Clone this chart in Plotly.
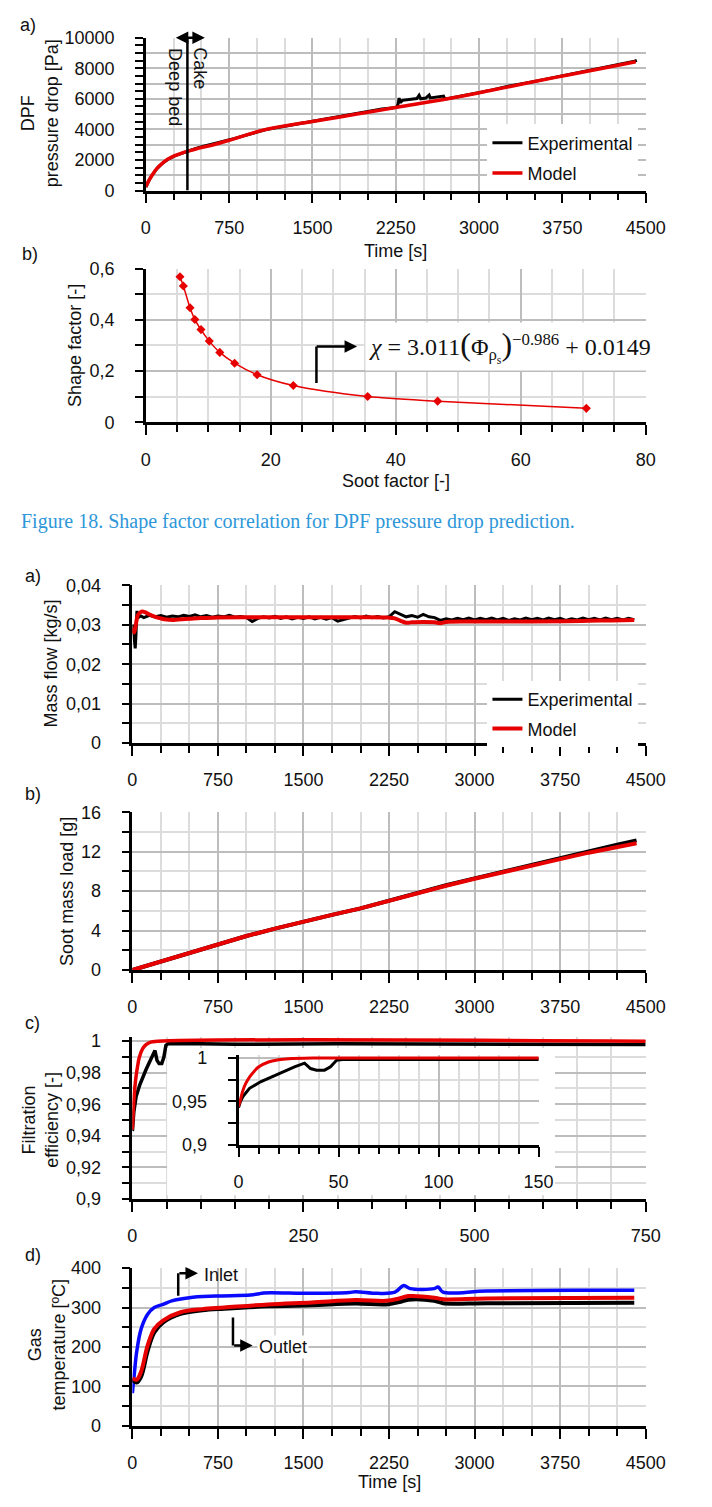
import plotly.graph_objects as go

W, H = 712, 1507
FONT = "Liberation Sans"
TXT = "#111111"
RED = "#e60000"
BLACK = "#000000"
BLUE = "#0a0aff"
GMAJ = "#bdbdbd"
GMIN = "#dcdcdc"

# ---------------- data ----------------
# Fig 18 a) DPF pressure drop
dp_time_model = [0, 10, 30, 60, 100, 150, 200, 260, 330, 374, 450, 610, 800, 1083, 1500, 1900, 2300, 2716, 3100, 3500, 3800, 4114, 4410]
dp_model = [250, 420, 700, 1050, 1450, 1800, 2060, 2280, 2470, 2560, 2720, 3000, 3400, 4000, 4520, 5000, 5500, 6000, 6540, 7130, 7560, 8000, 8420]
dp_time_exp = [0, 10, 30, 60, 100, 150, 200, 260, 330, 374, 450, 520, 610, 800, 1083, 1500, 1900, 2125, 2260, 2272, 2280, 2290,
               2310, 2350, 2400, 2440, 2460, 2475, 2520, 2550, 2560, 2600, 2650, 2680, 2690, 2716, 3100, 3300, 3500, 3800, 4114, 4400, 4420]
dp_exp = [230, 400, 690, 1040, 1440, 1790, 2050, 2270, 2460, 2570, 2760, 2900, 3050, 3410, 3990, 4510, 5000, 5330, 5440, 5700, 6050, 5750,
          5900, 5950, 5980, 6020, 6230, 6000, 6050, 6250, 6060, 6100, 6150, 6180, 6000, 6010, 6550, 6880, 7140, 7570, 8010, 8460, 8520]
transition_time = 374

# Fig 18 b) shape factor vs soot factor
soot_factor = [5.46, 6.0, 7.07, 7.84, 8.82, 10.15, 11.83, 14.2, 17.8, 23.6, 35.5, 46.7, 70.5]
shape_factor = [0.568, 0.532, 0.447, 0.401, 0.362, 0.317, 0.273, 0.231, 0.186, 0.144, 0.101, 0.083, 0.055]

# Fig 19 a) mass flow
mf_time_exp = [0, 10, 20, 25, 30, 35, 40, 50, 75,
               100, 150, 200, 250, 300, 350, 400, 450, 500, 550, 600, 650, 700, 750, 800, 850, 900, 950, 1000,
               1050, 1100, 1150, 1200, 1250, 1300, 1350, 1400, 1450, 1500, 1550, 1600, 1650, 1700, 1750, 1800,
               1850, 1900, 1950, 2000, 2050, 2100, 2150, 2200, 2250, 2300, 2350, 2400, 2450, 2500, 2550, 2600,
               2650, 2700, 2750, 2800, 2850, 2900, 2950, 3000, 3050, 3100, 3150, 3200, 3250, 3300, 3350, 3400,
               3450, 3500, 3550, 3600, 3650, 3700, 3750, 3800, 3850, 3900, 3950, 4000, 4050, 4100, 4150, 4200,
               4250, 4300, 4350, 4400]
mf_exp = [0.0300, 0.0285, 0.0255, 0.0240, 0.0265, 0.0310, 0.0335, 0.0318, 0.0322,
          0.0318, 0.0324, 0.0320, 0.0323, 0.0319, 0.0322, 0.0320, 0.0324, 0.0321, 0.0325, 0.0320, 0.0323, 0.0319, 0.0322, 0.0320, 0.0324, 0.0319, 0.0321, 0.0318,
          0.0308, 0.0316, 0.0320, 0.0317, 0.0321, 0.0316, 0.0320, 0.0315, 0.0319, 0.0316, 0.0320, 0.0315, 0.0319, 0.0314, 0.0318, 0.0309,
          0.0313, 0.0318, 0.0321, 0.0317, 0.0322, 0.0318, 0.0321, 0.0317, 0.0320, 0.0333, 0.0326, 0.0320, 0.0323, 0.0319, 0.0326, 0.0320,
          0.0318, 0.0311, 0.0315, 0.0312, 0.0316, 0.0313, 0.0317, 0.0312, 0.0316, 0.0313, 0.0317, 0.0312, 0.0316, 0.0311, 0.0315, 0.0312,
          0.0317, 0.0313, 0.0316, 0.0312, 0.0317, 0.0313, 0.0316, 0.0311, 0.0315, 0.0312, 0.0317, 0.0313, 0.0316, 0.0312, 0.0317, 0.0313,
          0.0316, 0.0312, 0.0316, 0.0313]
mf_time_model = [0, 15, 30, 50, 80, 110, 150, 200, 250, 300, 350, 400, 500, 600, 750, 1000, 1500, 2000, 2250, 2300, 2350, 2400,
                 2450, 2550, 2650, 2700, 2750, 3000, 3500, 3800, 4000, 4200, 4400]
mf_model = [0.0292, 0.0280, 0.0300, 0.0325, 0.0333, 0.0332, 0.0326, 0.0320, 0.0316, 0.0313, 0.0312, 0.0313, 0.0315, 0.0317, 0.0318,
            0.0319, 0.0319, 0.0319, 0.0318, 0.0316, 0.0310, 0.0305, 0.0306, 0.0307, 0.0306, 0.0304, 0.0307, 0.0308, 0.0308, 0.0309,
            0.0310, 0.0311, 0.0312]

# Fig 19 b) soot mass load
soot_time = [0, 250, 500, 750, 1000, 1250, 1500, 1750, 2000, 2250, 2500, 2750, 3000, 3250, 3500, 3750, 4000, 4250, 4420]
soot_exp = [0, 0.85, 1.75, 2.65, 3.45, 4.2, 4.95, 5.6, 6.25, 7.05, 7.85, 8.6, 9.3, 10.0, 10.7, 11.4, 12.05, 12.7, 13.15]
soot_model = [0, 0.85, 1.75, 2.65, 3.45, 4.2, 4.95, 5.6, 6.25, 7.05, 7.85, 8.55, 9.25, 9.95, 10.6, 11.25, 11.9, 12.5, 12.85]

# Fig 19 c) filtration efficiency
eff_time_model = [0, 1, 2, 3.5, 5.5, 8, 10, 15, 20, 25, 37, 750]
eff_model = [0.944, 0.952, 0.961, 0.970, 0.978, 0.985, 0.9895, 0.9953, 0.9978, 0.9991, 0.9999, 1.0]
eff_time_exp = [0, 1, 2.2, 5.5, 11, 20, 28, 33, 36, 39, 43, 46, 49, 52, 100, 120, 125, 135, 145, 150, 300, 500, 600, 650, 700, 750]
eff_exp = [0.943, 0.950, 0.9555, 0.965, 0.9725, 0.982, 0.9897, 0.994, 0.9878, 0.9859, 0.9859, 0.9897, 0.9973, 0.9983, 0.9983,
           0.9982, 0.9978, 0.9980, 0.9977, 0.9980, 0.9983, 0.9982, 0.9982, 0.9978, 0.9979, 0.9978]

# Fig 19 d) gas temperature
temp_time_in = [0, 19, 38, 77, 134, 192, 268, 345, 499, 729, 1036, 1112, 1150, 1573, 1900, 1956, 2148, 2302, 2378, 2436, 2647, 2680,
                2723, 3107, 3874, 4400]
temp_in = [83, 138, 188, 246, 283, 300, 308, 317, 325, 329, 332, 335, 337, 336, 338, 340, 336, 339, 356, 348, 348, 352, 339, 342, 344, 344]
temp_time_out = [0, 38, 77, 134, 192, 268, 422, 614, 806, 1189, 1573, 1956, 2225, 2340, 2420, 2647, 2723, 3107, 4400]
temp_out_model = [121, 117, 138, 204, 246, 267, 288, 296, 300, 308, 313, 319, 317, 323, 329, 325, 321, 323, 325]
temp_out_exp = [118, 110, 125, 190, 237, 262, 284, 293, 297, 303, 306, 310, 308, 314, 320, 317, 311, 311, 312]

# tick labels
time_ticks = [0, 750, 1500, 2250, 3000, 3750, 4500]
time_labels = ["0", "750", "1500", "2250", "3000", "3750", "4500"]
dp_ticks = [0, 1000, 2000, 3000, 4000, 5000, 6000, 7000, 8000, 9000, 10000]
dp_labels = ["0", "", "2000", "", "4000", "", "6000", "", "8000", "", "10000"]
sf_x_ticks = [0, 20, 40, 60, 80]
sf_x_labels = ["0", "20", "40", "60", "80"]
sf_y_ticks = [0, 0.2, 0.4, 0.6]
sf_y_labels = ["0", "0,2", "0,4", "0,6"]
mf_ticks = [0, 0.01, 0.02, 0.03, 0.04]
mf_labels = ["0", "0,01", "0,02", "0,03", "0,04"]
soot_ticks = [0, 4, 8, 12, 16]
soot_labels = ["0", "4", "8", "12", "16"]
eff_ticks = [0.9, 0.92, 0.94, 0.96, 0.98, 1.0]
eff_labels = ["0,9", "0,92", "0,94", "0,96", "0,98", "1"]
eff_t_ticks = [0, 250, 500, 750]
eff_t_labels = ["0", "250", "500", "750"]
inset_y_ticks = [0.9, 0.95, 1.0]
inset_y_labels = ["0,9", "0,95", "1"]
inset_x_ticks = [0, 50, 100, 150]
inset_x_labels = ["0", "50", "100", "150"]
temp_ticks = [0, 100, 200, 300, 400]
temp_labels = ["0", "100", "200", "300", "400"]


# ---------------- helpers ----------------
def dx(a, b):
    return [a / W, b / W]


def dy(top, bot):
    return [1 - bot / H, 1 - top / H]


def axis(dom, anchor, rng, vals, labels, minor_dtick, is_x, minor_grid=True):
    return dict(
        domain=dom, anchor=anchor, range=rng,
        tickmode="array", tickvals=vals, ticktext=labels,
        ticks="outside", ticklen=10 if is_x else 8, tickwidth=2, tickcolor="black",
        showline=True, linecolor="black", linewidth=2.5,
        showgrid=True, gridcolor=GMAJ, gridwidth=1.5, zeroline=False,
        tickfont=dict(family=FONT, size=18, color=TXT),
        ticklabelstandoff=9 if is_x else 17,
        fixedrange=True,
        minor=dict(tickmode="linear", tick0=0, dtick=minor_dtick, ticks="outside",
                   ticklen=7 if is_x else 8, tickwidth=2, tickcolor="black",
                   showgrid=minor_grid, gridcolor=GMIN, gridwidth=1.5),
    )


fig = go.Figure()

# panel 1
fig.add_trace(go.Scatter(x=dp_time_exp, y=dp_exp, mode="lines", line=dict(color=BLACK, width=3),
                         name="Experimental", legend="legend", legendgroup="e1", xaxis="x", yaxis="y"))
fig.add_trace(go.Scatter(x=dp_time_model, y=dp_model, mode="lines", line=dict(color=RED, width=3.5, shape="spline"),
                         name="Model", legend="legend", legendgroup="m1", xaxis="x", yaxis="y"))
# panel 2
fig.add_trace(go.Scatter(x=soot_factor, y=shape_factor, mode="lines+markers",
                         line=dict(color=RED, width=1.5, shape="spline", smoothing=0.8),
                         marker=dict(symbol="diamond", size=7, color=RED),
                         showlegend=False, xaxis="x2", yaxis="y2"))
# panel 3
fig.add_trace(go.Scatter(x=mf_time_exp, y=mf_exp, mode="lines", line=dict(color=BLACK, width=3),
                         name="Experimental", legend="legend2", legendgroup="e2", xaxis="x3", yaxis="y3"))
fig.add_trace(go.Scatter(x=mf_time_model, y=mf_model, mode="lines", line=dict(color=RED, width=4, shape="spline"),
                         name="Model", legend="legend2", legendgroup="m2", xaxis="x3", yaxis="y3"))
# panel 4
fig.add_trace(go.Scatter(x=soot_time, y=soot_exp, mode="lines", line=dict(color=BLACK, width=4),
                         showlegend=False, xaxis="x4", yaxis="y4"))
fig.add_trace(go.Scatter(x=soot_time, y=soot_model, mode="lines", line=dict(color=RED, width=4),
                         showlegend=False, xaxis="x4", yaxis="y4"))
# panel 5
fig.add_trace(go.Scatter(x=eff_time_exp, y=eff_exp, mode="lines", line=dict(color=BLACK, width=3.5),
                         showlegend=False, xaxis="x5", yaxis="y5"))
fig.add_trace(go.Scatter(x=eff_time_model, y=eff_model, mode="lines", line=dict(color=RED, width=3.5, shape="spline"),
                         showlegend=False, xaxis="x5", yaxis="y5"))
# white box behind inset
fig.add_trace(go.Scatter(x=[None], y=[None], showlegend=False, hoverinfo="skip", xaxis="x6", yaxis="y6"))
# inset
fig.add_trace(go.Scatter(x=eff_time_exp, y=eff_exp, mode="lines", line=dict(color=BLACK, width=3),
                         showlegend=False, xaxis="x7", yaxis="y7"))
fig.add_trace(go.Scatter(x=eff_time_model, y=eff_model, mode="lines", line=dict(color=RED, width=3, shape="spline"),
                         showlegend=False, xaxis="x7", yaxis="y7"))
# panel d temperature
fig.add_trace(go.Scatter(x=temp_time_in, y=temp_in, mode="lines", line=dict(color=BLUE, width=3.5, shape="spline"),
                         showlegend=False, xaxis="x8", yaxis="y8"))
fig.add_trace(go.Scatter(x=temp_time_out, y=temp_out_exp, mode="lines", line=dict(color=BLACK, width=4, shape="spline"),
                         showlegend=False, xaxis="x8", yaxis="y8"))
fig.add_trace(go.Scatter(x=temp_time_out, y=temp_out_model, mode="lines", line=dict(color=RED, width=4, shape="spline"),
                         showlegend=False, xaxis="x8", yaxis="y8"))

XL1, XL2, XR = 146, 132, 664
layout = dict(
    width=W, height=H, margin=dict(l=0, r=0, t=0, b=0),
    paper_bgcolor="white", plot_bgcolor="white", hovermode=False, showlegend=True,
    xaxis=axis(dx(XL1, XR), "y", [0, 4500], time_ticks, time_labels, 250, True),
    yaxis=axis(dy(28, 183), "x", [0, 10000], dp_ticks, dp_labels, 500, False, minor_grid=False),
    xaxis2=axis(dx(XL1, XR), "y2", [0, 80], sf_x_ticks, sf_x_labels, 5, True),
    yaxis2=axis(dy(262, 418), "x2", [0, 0.6], sf_y_ticks, sf_y_labels, 0.1, False),
    xaxis3=axis(dx(XL2, XR), "y3", [0, 4500], time_ticks, time_labels, 250, True),
    yaxis3=axis(dy(583, 743), "x3", [0, 0.04], mf_ticks, mf_labels, 0.005, False),
    xaxis4=axis(dx(XL2, XR), "y4", [0, 4500], time_ticks, time_labels, 250, True),
    yaxis4=axis(dy(813, 973), "x4", [0, 16], soot_ticks, soot_labels, 2, False),
    xaxis5=axis(dx(XL2, XR), "y5", [0, 750], eff_t_ticks, eff_t_labels, 50, True),
    yaxis5=axis(dy(1041, 1205), "x5", [0.9, 1.0025], eff_ticks, eff_labels, 0.01, False),
    xaxis6=dict(domain=dx(168, 570), anchor="y6", visible=False, range=[0, 1], fixedrange=True),
    yaxis6=dict(domain=dy(1052, 1201), anchor="x6", visible=False, range=[0, 1], fixedrange=True),
    xaxis7=axis(dx(242, 553), "y7", [0, 150], inset_x_ticks, inset_x_labels, 10, True),
    yaxis7=axis(dy(1059.4, 1150), "x7", [0.9, 1.003], inset_y_ticks, inset_y_labels, 0.025, False),
    xaxis8=axis(dx(XL2, XR), "y8", [0, 4500], time_ticks, time_labels, 250, True),
    yaxis8=axis(dy(1275, 1435), "x8", [0, 400], temp_ticks, temp_labels, 50, False),
    legend=dict(x=500 / W, y=1 - 116 / H, xanchor="left", yanchor="top", bgcolor="white",
                font=dict(family=FONT, size=18, color=TXT), tracegroupgap=4, itemwidth=30),
    legend2=dict(x=500 / W, y=1 - 680 / H, xanchor="left", yanchor="top", bgcolor="white",
                 font=dict(family=FONT, size=18, color=TXT), tracegroupgap=3, itemwidth=30),
)
fig.update_layout(**layout)

ann = []
shapes = []


def ptext(text, px, py, size=18, angle=0, xanchor="center", family=FONT, color=TXT):
    ann.append(dict(text=text, x=px / W, y=1 - py / H, xref="paper", yref="paper", showarrow=False,
                    xanchor=xanchor, yanchor="middle", textangle=angle,
                    font=dict(family=family, size=size, color=color)))


# panel letters
ptext("a)", 24, 15)
ptext("b)", 26, 247)
ptext("a)", 29, 574)
ptext("b)", 29, 795)
ptext("c)", 29, 1027)
ptext("d)", 29, 1262)
# axis titles
ptext("DPF<br>pressure drop [Pa]", 36, 105, angle=-90)
ptext("Time [s]", 405, 244)
ptext("Shape factor [-]", 73, 340, angle=-90)
ptext("Soot factor [-]", 405, 477)
ptext("Mass flow [kg/s]", 48, 662, angle=-90)
ptext("Soot mass load [g]", 64, 893, angle=-90)
ptext("Filtration<br>efficiency [-]", 36, 1125, angle=-90)
ptext("Gas<br>temperature [ºC]", 43, 1352, angle=-90)
ptext("Time [s]", 398, 1492)
# caption
ptext("Figure 18. Shape factor correlation for DPF pressure drop prediction.", 14, 518, size=20,
      xanchor="left", family="Liberation Serif", color="#2e97d9")

# panel 1 regime marker
shapes.append(dict(type="line", xref="x", yref="y", x0=transition_time, x1=transition_time, y0=0, y1=10000,
                   line=dict(color="black", width=2.5), layer="above"))
ann.append(dict(x=531, y=10000, ax=256, ay=10000, xref="x", yref="y", axref="x", ayref="y", text="",
                showarrow=True, arrowhead=2, arrowside="end+start", arrowsize=1, arrowwidth=2.5, arrowcolor="black"))
ann.append(dict(x=261, y=6774, xref="x", yref="y", text="Deep bed", showarrow=False, textangle=90,
                font=dict(family=FONT, size=18, color=TXT)))
ann.append(dict(x=487, y=8000, xref="x", yref="y", text="Cake", showarrow=False, textangle=90,
                font=dict(family=FONT, size=18, color=TXT)))

# panel 2 equation
shapes.append(dict(type="line", xref="x2", yref="y2", x0=27.3, x1=27.3, y0=0.154, y1=0.296,
                   line=dict(color="black", width=2.5), layer="above"))
ann.append(dict(x=33.8, y=0.296, ax=27.1, ay=0.296, xref="x2", yref="y2", axref="x2", ayref="y2", text="",
                showarrow=True, arrowhead=2, arrowsize=1, arrowwidth=2.5, arrowcolor="black"))
ann.append(dict(x=35.0, y=0.296, xref="x2", yref="y2", xanchor="left", yanchor="middle", showarrow=False,
                bgcolor="white", borderpad=3,
                text="<i>χ</i> = 3.011<span style='font-size:32px'>(</span>Φ<sub>ρ<sub>s</sub></sub>"
                     "<span style='font-size:32px'>)</span><sup>−0.986</sup> + 0.0149",
                font=dict(family="Liberation Serif", size=24, color=TXT)))

# panel d inlet / outlet markers
shapes.append(dict(type="line", xref="x8", yref="y8", x0=402, x1=402, y0=330, y1=387,
                   line=dict(color="black", width=2.5), layer="above"))
ann.append(dict(x=575, y=387, ax=399, ay=387, xref="x8", yref="y8", axref="x8", ayref="y8", text="",
                showarrow=True, arrowhead=2, arrowsize=1, arrowwidth=2.5, arrowcolor="black"))
ann.append(dict(x=613, y=383, xref="x8", yref="y8", xanchor="left", text="Inlet", showarrow=False,
                font=dict(family=FONT, size=18, color=TXT)))
shapes.append(dict(type="line", xref="x8", yref="y8", x0=882, x1=882, y0=275, y1=204,
                   line=dict(color="black", width=2.5), layer="above"))
ann.append(dict(x=1055, y=204, ax=879, ay=204, xref="x8", yref="y8", axref="x8", ayref="y8", text="",
                showarrow=True, arrowhead=2, arrowsize=1, arrowwidth=2.5, arrowcolor="black"))
ann.append(dict(x=1093, y=200, xref="x8", yref="y8", xanchor="left", text="Outlet", showarrow=False,
                bgcolor="white", font=dict(family=FONT, size=18, color=TXT)))

fig.update_layout(annotations=ann, shapes=shapes)
fig.write_html("out.html", post_script="document.body.style.margin='0';document.body.style.overflow='hidden';")
